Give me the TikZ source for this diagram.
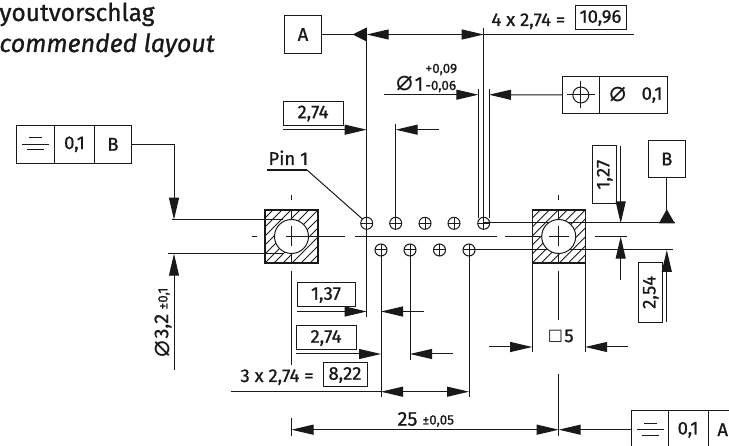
\documentclass[tikz,border=0pt]{standalone}
\usepackage{fontspec}
\setmainfont{Fira Sans}[RawFeature={embolden=0.9}]
\newfontfamily\symfont{DejaVu Sans}
\usetikzlibrary{arrows.meta,positioning}
\tikzset{
  dimtip/.style={-{Triangle[length=22pt,width=10pt]}},
  bothtip/.style={{Triangle[length=22pt,width=10pt]}-{Triangle[length=22pt,width=10pt]}},
  dimtext/.style={font=\fontsize{18.5}{20}\selectfont,inner sep=0pt},
  smalltext/.style={font=\fontsize{13.5}{15}\selectfont,inner sep=0pt},
  valbox/.style={draw,dimtext,minimum height=24pt,minimum width=60pt,outer sep=0pt},
  cellbox/.style={draw,dimtext,minimum height=37.5pt,outer sep=0pt},
  pinhole/.style={draw,circle,minimum size=12pt,inner sep=0pt,outer sep=0pt},
  hatchline/.style={line width=0.8pt},
}
\begin{document}
\begin{tikzpicture}[x=1pt,y=-1pt,line width=1pt,color=black!90]
      \clip (0,0) rectangle (729,446);
      % title
      \node [anchor=base west,inner sep=0pt,font=\fontsize{24.5}{26}\selectfont] (titlede) at (-1,21) {youtvorschlag};
      \node [anchor=base west,inner sep=0pt,font=\fontsize{25}{27}\selectfont\itshape] (titleen) at (-1,52) {commended layout};
      % left pad
      \begin{scope}[shift={(291.5,236.5)}]
        \begin{scope}
          \clip (-26.5,-26.5) rectangle (26.5,26.5);
          \foreach \i in {-7,...,7}
            \draw [hatchline] (\i*9-30,30) -- (\i*9+30,-30);
        \end{scope}
        \draw (-119.5,-16.8) -- (-9,-16.8);
        \draw (-123.5,17.2) -- (-9,17.2);
        \draw [fill=white] (0,0) circle [radius=17];
        \draw [line width=1.2pt] (-26.5,-26.5) rectangle (26.5,26.5);
        \draw (0,-41) -- (0,-36);
        \draw (0,-26.5) -- (0,-17);
        \draw (0,-10) -- (0,10);
        \draw (0,17) -- (0,26.5);
        \draw (-39.5,0) -- (-35,0);
        \draw (-6,0) -- (53,0);
      \end{scope}
      % right pad
      \begin{scope}[shift={(558.7,236.5)}]
        \begin{scope}
          \clip (-26.5,-26.5) rectangle (26.5,26.5);
          \foreach \i in {-7,...,7}
            \draw [hatchline] (\i*9-30,30) -- (\i*9+30,-30);
        \end{scope}
        \draw (-75,-13.5) -- (116,-13.5);
        \draw (-90,13.5) -- (114,13.5);
        \draw [fill=white] (0,0) circle [radius=17];
        \draw [line width=1.2pt] (-26.5,-26.5) rectangle (26.5,26.5);
        \draw (0,-41) -- (0,-36);
        \draw (0,-26.5) -- (0,-17);
        \draw (0,-10) -- (0,10);
        \draw (0,17) -- (0,26.5);
        \draw (0,35) -- (0,84);
        \draw (-53.5,0) -- (-17,0);
        \draw (-10,0) -- (10,0);
        \draw (36,0) -- (68,0);
      \end{scope}
      % centre line
      \draw (355,236.7) -- (497,236.7);
      % pins
      \foreach \i/\x in {1/366.7,2/395.7,3/425,4/454,5/483.7} {
        \node [pinhole] (top\i) at (\x,223.3) {};
        \draw (top\i.north) -- (top\i.south);
        \draw (top\i.west) -- (top\i.east);
      }
      \foreach \i/\x in {1/381,2/410,3/439.5,4/469} {
        \node [pinhole] (bot\i) at (\x,250) {};
        \draw (bot\i.north) -- (bot\i.south);
        \draw (bot\i.west) -- (bot\i.east);
      }
      % datum A, width over all top pins
      \node [draw,dimtext,minimum size=37.5pt,outer sep=0pt] (boxA) at (303,34.5) {A};
      \coordinate (datA) at (366.7,34.5);
      \coordinate (topdim) at (483.7,34.5);
      \fill (datA) ++(0,-7) -- ++(0,14) -- ++(-14,-7) -- cycle;
      \draw (boxA.east) -- (353,34.5);
      \draw [bothtip] (datA) -- (topdim);
      \draw (topdim) -- (634,34.5);
      \draw (366.7,28) -- (top1.center);
      \draw (top1.center) -- (366.7,317);
      \draw (topdim) ++(0,-6) -- (top5.north);
      \node [dimtext,anchor=base west] (topnote) at (491,26) {4 x 2,74 =};
      \node [valbox,minimum width=51pt] (topval) at (600.5,18) {10,96};
      % diameter of the pin holes
      \draw (478.3,89.3) -- (478.3,218);
      \draw (489,89.3) -- (489,218);
      \coordinate (holeleft) at (478.3,94.7);
      \coordinate (holeright) at (489,94.7);
      \draw [dimtip] (384,94.7) -- (holeleft);
      \node [cellbox,minimum width=37.5pt] (poscell) at (580.8,95) {};
      \node [cellbox,minimum width=68pt,right=0pt of poscell] (tolcell) {};
      \draw [dimtip] (poscell.west) -- (holeright);
      \draw (poscell.center) circle [radius=8];
      \draw (poscell.center) ++(-14,0) -- ++(28,0);
      \draw (poscell.center) ++(0,-13.5) -- ++(0,27);
      \node [font=\fontsize{28}{30}\selectfont\symfont,inner sep=0pt] (tolphi) at (617.7,95) {⌀};
      \node [dimtext] (tolval) at (652,95) {0,1};
      \node [font=\fontsize{28}{30}\selectfont\symfont,inner sep=0pt] (holephi) at (404.5,84) {⌀};
      \node [font=\fontsize{20}{22}\selectfont,inner sep=0pt] (holeval) at (419,84) {1};
      \node [smalltext,anchor=west] (holeup) at (425,69.5) {+0,09};
      \node [smalltext,anchor=west] (holelow) at (425,86.5) {-0,06};
      % upper pitch
      \node [valbox] (upval) at (313,113.5) {2,74};
      \draw [dimtip] (283,129.7) -- (366.7,129.7);
      \draw [dimtip] (439,129.7) -- (395.7,129.7);
      \draw (395.7,124) -- (top2.north);
      % pin 1
      \node [dimtext,anchor=base west] (pinlabel) at (268,165) {Pin 1};
      \draw [line width=1.3pt] (267,170) -- (307,170);
      \draw (307,170) -- (top1.north west);
      % symmetry of the left pad
      \node [cellbox,minimum width=38pt,anchor=west] (symcell) at (16.5,144.3) {};
      \node [cellbox,minimum width=40pt,right=0pt of symcell] (symval) {0,1};
      \node [cellbox,minimum width=37pt,right=0pt of symval] (symdat) {B};
      \draw (22,144.7) -- (49,144.7);
      \draw (29,138) -- (42,138);
      \draw (27,150) -- (44,150);
      \coordinate (padtop) at (174,219.7);
      \coordinate (padlow) at (174,253.7);
      \draw (symdat.east) -- (174,144.3);
      \draw [dimtip] (174,144.3) -- (padtop);
      \draw [dimtip] (174,369.6) -- (padlow);
      \node [rotate=90,font=\fontsize{28}{30}\selectfont\symfont,inner sep=0pt] (padphi) at (163,349) {⌀};
      \node [rotate=90,anchor=west,inner sep=0pt,font=\fontsize{20}{22}\selectfont] (padval) at (163,339) {3,2};
      \node [rotate=90,smalltext,anchor=west] (padtol) at (164,310) {±0,1};
      % lower pitch
      \node [valbox,minimum width=58pt] (lowone) at (326,295) {1,37};
      \draw [dimtip] (297,311.5) -- (366.7,311.5);
      \draw [dimtip] (424,311.5) -- (bot1.center |- 0,311.5);
      \node [valbox] (lowtwo) at (326,338) {2,74};
      \draw [dimtip] (296,354) -- (bot1.center |- 0,354);
      \draw [dimtip] (453,354) -- (bot2.center |- 0,354);
      \draw (bot1.center) -- (381,397);
      \draw (bot2.center) -- (410,360);
      \draw (bot4.center) -- (469,397);
      \node [dimtext,anchor=base west] (lownote) at (240,382) {3 x 2,74 =};
      \node [valbox,minimum width=44pt] (lowval) at (345,375) {8,22};
      \draw (231,391.7) -- (381,391.7);
      \draw [bothtip] (381,391.7) -- (469,391.7);
      % pad size
      \draw (532.2,263) -- (532.2,352.3);
      \draw (585.2,263) -- (585.2,352.3);
      \draw [dimtip] (489,347) -- (532.2,347);
      \draw [dimtip] (628,347) -- (585.2,347);
      \node [font=\fontsize{16}{18}\selectfont\symfont,inner sep=0pt] (sizesq) at (555.5,336) {□};
      \node [dimtext] (sizeval) at (569,336) {5};
      % pitch of the rows
      \node [valbox,rotate=90,minimum width=57.5pt] (rowone) at (604.7,174.7) {1,27};
      \draw [dimtip] (620.7,146) -- (620.7,223.3);
      \draw [dimtip] (620.7,279.7) -- (620.7,236.7);
      \node [draw,dimtext,minimum size=37.5pt,outer sep=0pt] (boxB) at (666.8,159) {B};
      \coordinate (datB) at (666.8,223.3);
      \draw (boxB.south) -- (datB);
      \fill (datB) ++(-8,0) -- ++(16,0) -- ++(-8,-14) -- cycle;
      \node [valbox,rotate=90] (rowtwo) at (650.7,292.3) {2,54};
      \draw [dimtip] (666.8,322.3) -- (666.8,250);
      % pad distance
      \draw (291.5,271) -- (291.5,365);
      \draw (291.5,418) -- (291.5,436);
      \draw (558.7,374) -- (558.7,436);
      \draw [bothtip] (291.5,429.7) -- (558.7,429.7);
      \node [font=\fontsize{20}{22}\selectfont,inner sep=0pt] (distval) at (407.5,419) {25};
      \node [smalltext,anchor=west] (disttol) at (422,421) {±0,05};
      \node [cellbox,minimum width=37pt,anchor=west] (distcell) at (631,429.7) {};
      \node [cellbox,minimum width=40pt,right=0pt of distcell] (distnum) {0,1};
      \node [cellbox,minimum width=37pt,right=0pt of distnum] (distdat) {};
      \node [dimtext,anchor=east] (distA) at (728.5,429.7) {A};
      \draw [dimtip] (distcell.west) -- (558.7,429.7);
      \draw (637,430) -- (664,430);
      \draw (644,423.5) -- (657,423.5);
      \draw (642,435.5) -- (659,435.5);
\end{tikzpicture}
\end{document}
